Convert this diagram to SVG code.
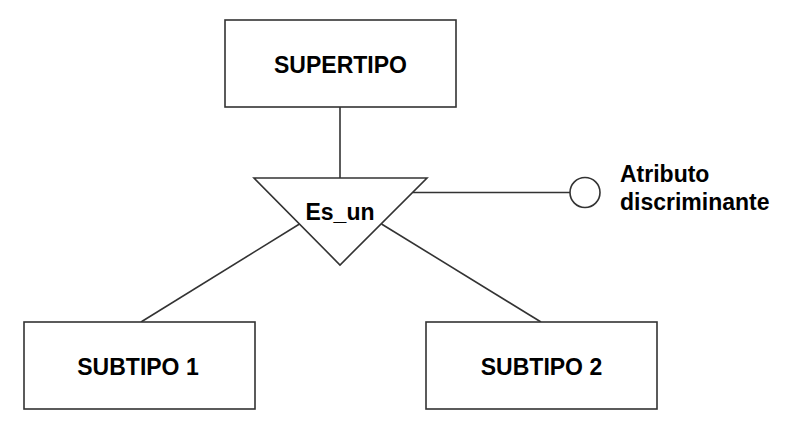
<svg xmlns="http://www.w3.org/2000/svg" width="787" height="432" viewBox="0 0 787 432">
<style>
.box{fill:#fff;stroke:#333;stroke-width:1.6}
.ln{fill:none;stroke:#333;stroke-width:1.6}
.t{font-family:"Liberation Sans",Arial,sans-serif;font-weight:bold;font-size:23px;fill:#000}
.m{text-anchor:middle}
</style>
<rect width="787" height="432" fill="#fff"/>
<g id="connectors">
<line class="ln" x1="340" y1="107" x2="340" y2="178"/>
<line class="ln" x1="299.5" y1="224" x2="141" y2="322"/>
<line class="ln" x1="381.5" y1="224" x2="541" y2="322"/>
<line class="ln" x1="413" y1="192.5" x2="570" y2="192.5"/>
</g>
<g id="supertipo">
<rect class="box" x="225" y="20" width="231" height="87"/>
<text class="t m" x="340.5" y="73">SUPERTIPO</text>
</g>
<g id="es_un">
<polygon class="box" points="254,178 427,178 340,265"/>
<text class="t m" x="340" y="220">Es_un</text>
</g>
<g id="atributo">
<circle class="box" cx="585" cy="192.5" r="15"/>
<text class="t" x="620" y="182">Atributo</text>
<text class="t" x="620" y="210">discriminante</text>
</g>
<g id="subtipo1">
<rect class="box" x="24" y="322" width="231" height="87"/>
<text class="t m" x="138" y="375">SUBTIPO 1</text>
</g>
<g id="subtipo2">
<rect class="box" x="426" y="322" width="231" height="87"/>
<text class="t m" x="541.5" y="375">SUBTIPO 2</text>
</g>
</svg>
